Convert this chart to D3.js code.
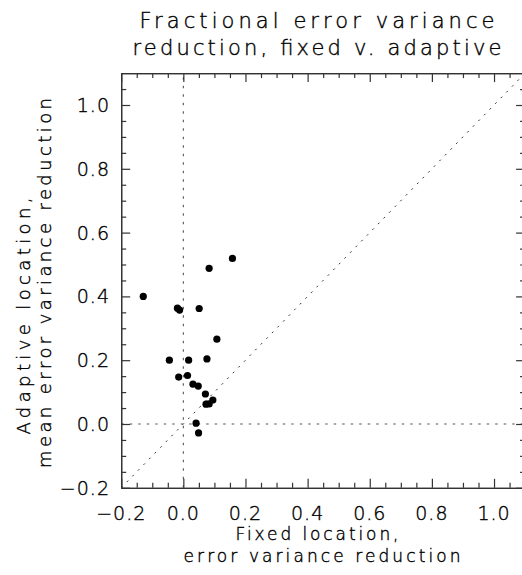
<!DOCTYPE html>
<html>
<head>
<meta charset="utf-8">
<script src="https://cdn.jsdelivr.net/npm/d3@7/dist/d3.min.js"></script>
<style>
  html, body { margin: 0; padding: 0; background: #fff; }
  svg { display: block; }
  text { font-family: "DejaVu Sans", "Liberation Sans", sans-serif; font-weight: 200; fill: #000; stroke: #000; stroke-width: 0.4; }
</style>
</head>
<body>
<script>
// ---- data ----
const fixedReduction = [-0.129, 0.083, 0.158, -0.019, -0.012, 0.051, 0.108, -0.045, 0.017, 0.076,
                        -0.015, 0.0135, 0.031, 0.048, 0.071, 0.095, 0.073, 0.083, 0.041, 0.049];
const adaptiveReduction = [0.400, 0.488, 0.519, 0.363, 0.357, 0.362, 0.266, 0.200, 0.200, 0.204,
                           0.147, 0.152, 0.125, 0.119, 0.094, 0.075, 0.062, 0.063, 0.0025, -0.028];
const majorTicks = [-0.2, 0.0, 0.2, 0.4, 0.6, 0.8, 1.0];
const minorTicks = [-0.15, -0.1, -0.05, 0.05, 0.1, 0.15, 0.25, 0.3, 0.35, 0.45, 0.5, 0.55,
                    0.65, 0.7, 0.75, 0.85, 0.9, 0.95, 1.05];
const axisDomain = [-0.2, 1.1];
const titleLines = ["Fractional error variance", "reduction, fixed v. adaptive"];
const xTitleLines = ["Fixed location,", "error variance reduction"];
const yTitleLines = ["Adaptive location,", "mean error variance reduction"];

// ---- layout ----
const W = 522, H = 575;
const plotLeft = 121.2, plotRight = 525.1, plotTop = 73.1, plotBottom = 487.8;

const svg = d3.select("body").append("svg").attr("width", W).attr("height", H);
svg.append("rect").attr("width", W).attr("height", H).attr("fill", "#fff");

const x = d3.scaleLinear().domain(axisDomain).range([plotLeft, plotRight]);
const y = d3.scaleLinear().domain(axisDomain).range([plotBottom, plotTop]);

const axisColor = "#333";
const fmt = d3.format(".1f");

function styleAxis(g) {
  g.selectAll("path.domain").attr("stroke", axisColor).attr("stroke-width", 1.2);
  g.selectAll(".tick line").attr("stroke", axisColor).attr("stroke-width", 1.2);
  g.selectAll(".tick text").remove();
}

// reference lines (dotted)
const dotted = "2.5,6";
svg.append("line")
  .attr("x1", x(0)).attr("x2", x(0)).attr("y1", y(axisDomain[0])).attr("y2", y(axisDomain[1]))
  .attr("stroke", "#555").attr("stroke-width", 1.1).attr("stroke-dasharray", dotted);
svg.append("line")
  .attr("x1", x(axisDomain[0])).attr("x2", x(axisDomain[1])).attr("y1", y(0)).attr("y2", y(0))
  .attr("stroke", "#555").attr("stroke-width", 1.1).attr("stroke-dasharray", dotted);
svg.append("line")
  .attr("x1", x(axisDomain[0])).attr("x2", x(axisDomain[1]))
  .attr("y1", y(axisDomain[0])).attr("y2", y(axisDomain[1]))
  .attr("stroke", "#333").attr("stroke-width", 1).attr("stroke-dasharray", "2,6");

// axes: major + minor ticks on all four sides (inward)
const majLen = 9, minLen = 5;
const axes = [
  [d3.axisBottom(x), `translate(0,${plotBottom})`],
  [d3.axisTop(x), `translate(0,${plotTop})`],
  [d3.axisLeft(y), `translate(${plotLeft},0)`],
  [d3.axisRight(y), `translate(${plotRight},0)`]
];
axes.forEach(([ax, tr]) => {
  svg.append("g").attr("transform", tr)
    .call(ax.tickValues(majorTicks).tickSizeInner(-majLen).tickSizeOuter(0))
    .call(styleAxis);
  svg.append("g").attr("transform", tr)
    .call(ax.tickValues(minorTicks).tickSizeInner(-minLen).tickSizeOuter(0))
    .call(styleAxis);
});

// tick labels
svg.append("g").selectAll("text").data(majorTicks).join("text")
  .attr("x", d => x(d)).attr("y", 520)
  .attr("text-anchor", "middle").attr("font-size", 19).attr("letter-spacing", 1)
  .text(d => fmt(d));
svg.append("g").selectAll("text").data(majorTicks).join("text")
  .attr("x", 110).attr("y", d => y(d) + 7)
  .attr("text-anchor", "end").attr("font-size", 19).attr("letter-spacing", 1)
  .text(d => fmt(d));

// points
svg.append("g").selectAll("circle").data(fixedReduction.map((v, i) => [v, adaptiveReduction[i]]))
  .join("circle")
  .attr("cx", d => x(d[0])).attr("cy", d => y(d[1])).attr("r", 3.6).attr("fill", "#000");

// title
const tl = [[317, 28, 355], [317, 55, 369]];
titleLines.forEach((t, i) => {
  svg.append("text").attr("x", tl[i][0]).attr("y", tl[i][1])
    .attr("text-anchor", "middle").attr("font-size", 21)
    .attr("textLength", tl[i][2]).attr("lengthAdjust", "spacing").text(t);
});

// x title
const xl = [[317, 540, 163], [322, 562, 277]];
xTitleLines.forEach((t, i) => {
  svg.append("text").attr("x", xl[i][0]).attr("y", xl[i][1])
    .attr("text-anchor", "middle").attr("font-size", 17)
    .attr("textLength", xl[i][2]).attr("lengthAdjust", "spacing").text(t);
});

// y title (rotated)
const yl = [[30, 316, 237], [51, 283, 370]];
yTitleLines.forEach((t, i) => {
  svg.append("text")
    .attr("transform", `translate(${yl[i][0]},${yl[i][1]}) rotate(-90)`)
    .attr("text-anchor", "middle").attr("font-size", 18)
    .attr("textLength", yl[i][2]).attr("lengthAdjust", "spacing").text(t);
});
</script>
</body>
</html>
